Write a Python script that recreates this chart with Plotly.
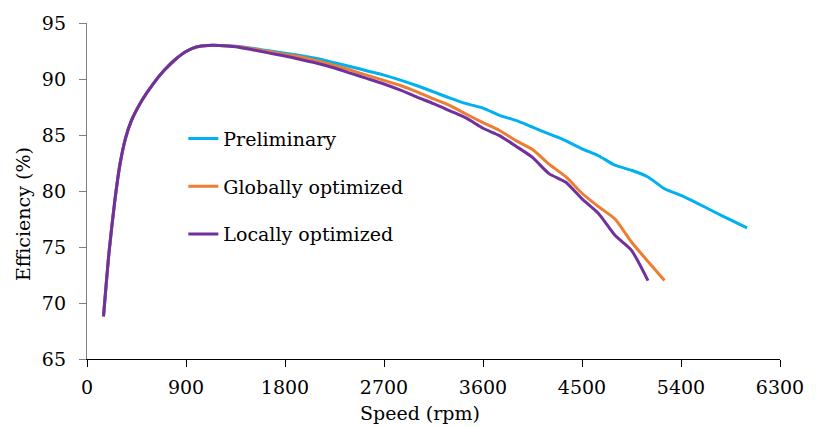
import plotly.graph_objects as go

# Motor efficiency vs speed for the three design stages
speed_prelim = [150, 200, 250, 300, 350, 400, 500, 600, 700, 800, 900, 1000, 1100, 1200,
                1350, 1500, 1650, 1800, 1950, 2100, 2250, 2400, 2550, 2700, 2850, 3000,
                3150, 3300, 3450, 3600, 3750, 3900, 4050, 4200, 4350, 4500, 4650, 4800,
                4950, 5100, 5250, 5400, 5550, 5700, 5850, 6000]
eff_prelim = [68.8, 74.5, 78.9, 82.4, 84.7, 86.2, 88.1, 89.55, 90.75, 91.72, 92.45, 92.88, 93.0, 93.0,
              92.92, 92.75, 92.52, 92.3, 92.08, 91.8, 91.45, 91.1, 90.72, 90.35, 89.9, 89.4,
              88.85, 88.3, 87.8, 87.4, 86.75, 86.3, 85.7, 85.1, 84.5, 83.77, 83.15, 82.3,
              81.85, 81.25, 80.2, 79.6, 78.9, 78.15, 77.42, 76.7]

speed_global = [150, 200, 250, 300, 350, 400, 500, 600, 700, 800, 900, 1000, 1100, 1200,
                1350, 1500, 1650, 1800, 1950, 2100, 2250, 2400, 2550, 2700, 2850, 3000,
                3150, 3300, 3450, 3600, 3750, 3900, 4050, 4200, 4350, 4500, 4650, 4800,
                4950, 5100, 5250]
eff_global = [68.8, 74.5, 78.9, 82.4, 84.7, 86.2, 88.1, 89.55, 90.75, 91.72, 92.45, 92.88, 93.0, 93.0,
              92.9, 92.7, 92.45, 92.2, 91.95, 91.62, 91.22, 90.78, 90.32, 89.88, 89.42, 88.85,
              88.22, 87.62, 86.85, 86.1, 85.4, 84.5, 83.7, 82.4, 81.3, 79.8, 78.6, 77.5,
              75.45, 73.7, 72.0]

speed_local = [150, 200, 250, 300, 350, 400, 500, 600, 700, 800, 900, 1000, 1100, 1200,
               1350, 1500, 1650, 1800, 1950, 2100, 2250, 2400, 2550, 2700, 2850, 3000,
               3150, 3300, 3450, 3600, 3750, 3900, 4050, 4200, 4350, 4500, 4650, 4800,
               4950, 5100]
eff_local = [68.8, 74.5, 78.9, 82.4, 84.7, 86.2, 88.1, 89.55, 90.75, 91.72, 92.45, 92.88, 93.0, 93.0,
             92.88, 92.62, 92.33, 92.05, 91.72, 91.38, 90.98, 90.5, 90.03, 89.55, 89.0, 88.38,
             87.8, 87.15, 86.5, 85.6, 84.95, 84.0, 83.0, 81.55, 80.8, 79.3, 78.0, 76.05,
             74.7, 72.0]

x_ticks = [0, 900, 1800, 2700, 3600, 4500, 5400, 6300]
y_ticks = [65, 70, 75, 80, 85, 90, 95]

FONT = "DejaVu Serif"

fig = go.Figure()
series = [
    ("Preliminary", speed_prelim, eff_prelim, "#00B0F0"),
    ("Globally optimized", speed_global, eff_global, "#ED7D31"),
    ("Locally optimized", speed_local, eff_local, "#7030A0"),
]
for name, xs, ys, color in series:
    fig.add_trace(go.Scatter(
        x=xs, y=ys, name=name, mode="lines", legendgroup=name,
        line=dict(color=color, width=3, shape="spline", smoothing=0.6),
    ))

fig.update_layout(
    width=816, height=427,
    margin=dict(l=87, r=28, t=19, b=68),
    paper_bgcolor="white", plot_bgcolor="white",
    font=dict(family=FONT, size=19, color="black"),
    showlegend=True,
    legend=dict(
        x=0.139, y=0.712, xanchor="left", yanchor="top",
        bgcolor="rgba(0,0,0,0)", font=dict(family=FONT, size=19),
        traceorder="grouped", tracegroupgap=20, itemwidth=30,
    ),
    annotations=[
        dict(text="Speed (rpm)", xref="paper", yref="paper",
             x=0.481, y=-0.122, xanchor="center", yanchor="top",
             showarrow=False, font=dict(family=FONT, size=19)),
        dict(text="Efficiency (%)", xref="paper", yref="paper",
             x=-0.093, y=0.43, xanchor="center", yanchor="middle",
             textangle=-90, showarrow=False, font=dict(family=FONT, size=19)),
    ],
)
fig.update_xaxes(
    range=[0, 6300], tickvals=x_ticks, ticktext=[str(v) for v in x_ticks],
    showgrid=False, zeroline=False, showline=True, linecolor="black", linewidth=1.3,
    ticks="outside", ticklen=7, tickcolor="black", tickwidth=1,
    ticklabelstandoff=4,
)
fig.update_yaxes(
    range=[65, 95], tickvals=y_ticks, ticktext=[str(v) for v in y_ticks],
    showgrid=False, zeroline=False, showline=True, linecolor="#7f7f7f", linewidth=1.3,
    ticks="outside", ticklen=7, tickcolor="#7f7f7f", tickwidth=1,
    ticklabelstandoff=9,
)

fig.write_html("out.html")
